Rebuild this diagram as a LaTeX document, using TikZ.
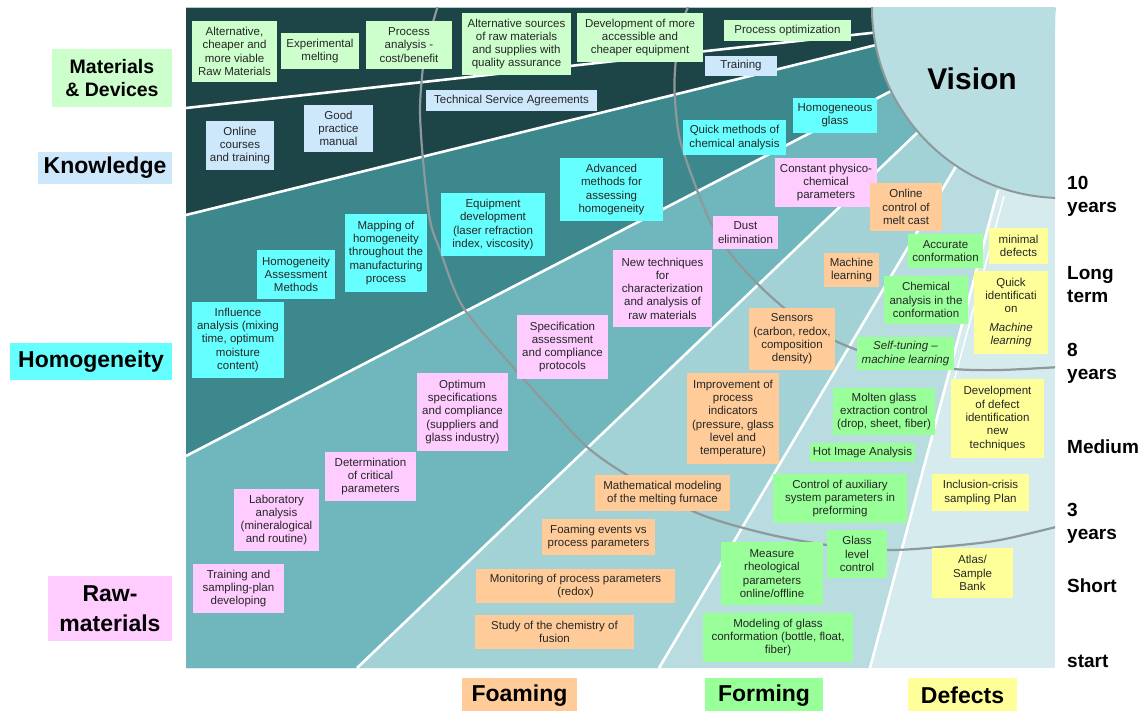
\documentclass[tikz,border=0pt]{standalone}
\usepackage{fontspec}
\setmainfont{Liberation Sans}
\definecolor{darkband}{HTML}{1D4447}
\definecolor{homband}{HTML}{3C888C}
\definecolor{rawband}{HTML}{70B7BD}
\definecolor{foamband}{HTML}{A2D2D6}
\definecolor{formband}{HTML}{B8DCDF}
\definecolor{defband}{HTML}{D5EBEE}
\definecolor{visionfill}{HTML}{B9DEE1}
\definecolor{arcgray}{HTML}{8E999B}
\definecolor{mdgreen}{HTML}{CCFFCC}
\definecolor{knblue}{HTML}{CDE7FB}
\definecolor{homcyan}{HTML}{66FFFF}
\definecolor{rawpink}{HTML}{FFCCFF}
\definecolor{foamorange}{HTML}{FFCC99}
\definecolor{formgreen}{HTML}{99FF99}
\definecolor{defyellow}{HTML}{FFFF99}
\tikzset{
  notebox/.style={inner sep=0pt, align=center, text=black!85, font=\fontsize{11.5}{13.3}\selectfont},
  mdnote/.style={notebox, fill=mdgreen},
  knnote/.style={notebox, fill=knblue},
  homnote/.style={notebox, fill=homcyan},
  rawnote/.style={notebox, fill=rawpink},
  foamnote/.style={notebox, fill=foamorange},
  formnote/.style={notebox, fill=formgreen},
  defnote/.style={notebox, fill=defyellow},
  catlabel/.style={inner sep=0pt, align=center, font=\bfseries\fontsize{23}{28}\selectfont},
  catmd/.style={catlabel, fill=mdgreen, font=\bfseries\fontsize{19.5}{23}\selectfont},
  catkn/.style={catlabel, fill=knblue},
  cathom/.style={catlabel, fill=homcyan},
  catraw/.style={catlabel, fill=rawpink, font=\bfseries\fontsize{23}{30}\selectfont},
  catfoam/.style={catlabel, fill=foamorange},
  catform/.style={catlabel, fill=formgreen},
  catdef/.style={catlabel, fill=defyellow},
  timelabel/.style={anchor=west, inner sep=0pt, align=left, font=\bfseries\fontsize{19}{23}\selectfont},
  bandline/.style={white, line width=2.6pt},
  yeararc/.style={draw=arcgray, line width=2.2pt},
}
% box from corner (x1,y1) to (x2,y2), pixel units
\newcommand{\postit}[7]{\node[#1, minimum width={(#4-#2)*1pt}, minimum height={(#5-#3)*1pt}] (#6) at ({(#2+#4)/2},{(#3+#5)/2}) {#7};}

\begin{document}
\begin{tikzpicture}[x=1pt,y=-1pt]
    \useasboundingbox (0,0) rectangle (1146,711);

    % bands
    \begin{scope}
        \clip (186,8) rectangle (1055,668);
        \fill[defband] (186,8) rectangle (1055,668);
        \fill[formband] (186,668) -- (870,668) -- (996,195) -- (1062,8) -- (186,8) -- cycle;
        \fill[foamband] (186,668) -- (659,668) -- (955,168) -- (1062,8) -- (186,8) -- cycle;
        \fill[rawband] (186,668) -- (357,668) -- (915,135) -- (1062,8) -- (186,8) -- cycle;
        \fill[homband] (186,456) -- (891,91) -- (1062,8) -- (186,8) -- cycle;
        \fill[darkband] (186,215) -- (880,44) -- (1062,8) -- (186,8) -- cycle;

        % white dividers
        \draw[bandline] (186,108) -- (880,32);
        \draw[bandline] (186,215) -- (880,44);
        \draw[bandline] (186,456) -- (895,89);
        \draw[bandline] (357,668) -- (918,132);
        \draw[bandline] (659,668) -- (958,163);
        \draw[bandline] (870,668) -- (998,190);
        \draw[white, line width=1.5pt] (1004,196) -- (951,392);

        % time arcs
        \draw[yeararc] plot[smooth] coordinates {(690,2) (680,30) (675,70) (675,100) (680,140) (697,190) (713,227) (733,257) (767,293) (810,328) (857,350) (900,362) (953,369) (1000,370) (1060,367)};
        \draw[yeararc] plot[smooth] coordinates {(439,2) (428,40) (423,67) (420,110) (423,160) (430,220) (440,250) (463,307) (513,367) (550,408) (587,447) (627,475) (697,513) (763,533) (827,545) (890,550) (950,546) (1000,540) (1060,526)};

        % vision
        \draw[fill=visionfill, draw=arcgray, line width=2pt] (1062,8) circle[radius=190pt];
    \end{scope}
    \node[font=\bfseries\fontsize{30}{34}\selectfont] (vision) at (972,79) {Vision};

    % row: materials & devices
    \postit{mdnote}{192}{21}{277}{82}{altraw}{Alternative,\\cheaper and\\more viable\\Raw Materials}
    \postit{mdnote}{281}{33}{359}{69}{expmelt}{Experimental\\melting}
    \postit{mdnote}{366}{21}{452}{69}{procana}{Process\\analysis -\\cost/benefit}
    \postit{mdnote}{462}{13}{571}{75}{altsrc}{Alternative sources\\of raw materials\\and supplies with\\quality assurance}
    \postit{mdnote}{577}{13}{703}{62}{develeq}{Development of more\\accessible and\\cheaper equipment}
    \postit{mdnote}{724}{20}{851}{41}{procopt}{Process optimization}

    % row: knowledge
    \postit{knnote}{705}{56}{777}{76}{training}{Training}
    \postit{knnote}{426}{90}{597}{111}{techserv}{Technical Service Agreements}
    \postit{knnote}{206}{121}{274}{170}{online}{Online\\courses\\and training}
    \postit{knnote}{304}{105}{373}{152}{goodprac}{Good\\practice\\manual}

    % row: homogeneity
    \postit{homnote}{793}{98}{877}{133}{homglass}{Homogeneous\\glass}
    \postit{homnote}{683}{120}{786}{155}{quickchem}{Quick methods of\\chemical analysis}
    \postit{homnote}{560}{158}{663}{221}{advmeth}{Advanced\\methods for\\assessing\\homogeneity}
    \postit{homnote}{441}{193}{545}{256}{equipdev}{Equipment\\development\\(laser refraction\\index, viscosity)}
    \postit{homnote}{345}{214}{427}{292}{mapping}{Mapping of\\homogeneity\\throughout the\\manufacturing\\process}
    \postit{homnote}{257}{250}{335}{299}{assess}{Homogeneity\\Assessment\\Methods}
    \postit{homnote}{192}{302}{284}{378}{influence}{Influence\\analysis (mixing\\time, optimum\\moisture\\content)}

    % row: raw materials
    \postit{rawnote}{775}{158}{877}{207}{physchem}{Constant physico-\\chemical\\parameters}
    \postit{rawnote}{713}{216}{778}{249}{dust}{Dust\\elimination}
    \postit{rawnote}{613}{250}{712}{327}{newtech}{New techniques\\for\\characterization\\and analysis of\\raw materials}
    \postit{rawnote}{517}{315}{608}{379}{specass}{Specification\\assessment\\and compliance\\protocols}
    \postit{rawnote}{417}{373}{508}{451}{optspec}{Optimum\\specifications\\and compliance\\(suppliers and\\glass industry)}
    \postit{rawnote}{325}{452}{416}{501}{critpar}{Determination\\of critical\\parameters}
    \postit{rawnote}{234}{489}{319}{551}{labana}{Laboratory\\analysis\\(mineralogical\\and routine)}
    \postit{rawnote}{193}{564}{284}{613}{sampling}{Training and\\sampling-plan\\developing}

    % foaming
    \postit{foamnote}{870}{183}{942}{231}{meltcast}{Online\\control of\\melt cast}
    \postit{foamnote}{824}{253}{879}{287}{mlfoam}{Machine\\learning}
    \postit{foamnote}{749}{308}{835}{370}{sensors}{Sensors\\(carbon, redox,\\composition\\density)}
    \postit{foamnote}{687}{373}{779}{464}{indicators}{Improvement of\\process\\indicators\\(pressure, glass\\level and\\temperature)}
    \postit{foamnote}{595}{475}{730}{511}{mathmod}{Mathematical modeling\\of the melting furnace}
    \postit{foamnote}{542}{519}{655}{555}{foamev}{Foaming events vs\\process parameters}
    \postit{foamnote}{476}{569}{675}{603}{monitor}{Monitoring  of process parameters\\(redox)}
    \postit{foamnote}{475}{615}{634}{649}{chemfus}{Study of the chemistry of\\fusion}

    % forming
    \postit{formnote}{908}{234}{983}{268}{accconf}{Accurate\\conformation}
    \postit{formnote}{884}{276}{968}{324}{chemconf}{Chemical\\analysis in the\\conformation}
    \postit{formnote}{857}{337}{954}{370}{selftune}{\textit{Self-tuning –}\\\textit{machine  learning}}
    \postit{formnote}{833}{388}{935}{435}{molten}{Molten glass\\extraction control\\(drop, sheet, fiber)}
    \postit{formnote}{810}{443}{915}{462}{hotimg}{Hot Image Analysis}
    \postit{formnote}{773}{474}{907}{523}{auxctrl}{Control of auxiliary\\system parameters in\\preforming}
    \postit{formnote}{827}{530}{887}{578}{glevel}{Glass\\level\\control}
    \postit{formnote}{721}{542}{823}{605}{rheo}{Measure\\rheological\\parameters\\online/offline}
    \postit{formnote}{703}{613}{853}{662}{modconf}{Modeling of glass\\conformation (bottle, float,\\fiber)}

    % defects
    \postit{defnote}{989}{228}{1048}{264}{mindef}{minimal\\defects}
    \postit{defnote}{974}{271}{1048}{354}{quickid}{Quick\\identificati\\on\\[5pt]\textit{Machine}\\\textit{learning}}
    \postit{defnote}{951}{379}{1044}{458}{devdef}{Development\\of defect\\identification\\new\\techniques}
    \postit{defnote}{932}{474}{1029}{511}{inclusion}{Inclusion-crisis\\sampling Plan}
    \postit{defnote}{932}{548}{1013}{598}{atlas}{Atlas/\\Sample\\Bank}

    % category labels
    \postit{catmd}{52}{49}{172}{107}{catmat}{Materials\\\& Devices}
    \postit{catkn}{38}{152}{172}{184}{catknow}{Knowledge}
    \postit{cathom}{10}{343}{172}{380}{cathomo}{Homogeneity}
    \postit{catraw}{48}{576}{172}{641}{catrawm}{Raw-\\materials}
    \postit{catfoam}{462}{678}{577}{713}{catfoaming}{Foaming}
    \postit{catform}{705}{678}{823}{713}{catforming}{Forming}
    \postit{catdef}{908}{678}{1017}{713}{catdefects}{Defects}

    % time scale
    \node[timelabel] (tenyears) at (1067,196) {10\\years};
    \node[timelabel] (longterm) at (1067,285) {Long\\term};
    \node[timelabel] (eightyears) at (1067,363) {8\\years};
    \node[timelabel] (medium) at (1067,447) {Medium};
    \node[timelabel] (threeyears) at (1067,523) {3\\years};
    \node[timelabel] (short) at (1067,586) {Short};
    \node[timelabel] (start) at (1067,661) {start};
\end{tikzpicture}
\end{document}
